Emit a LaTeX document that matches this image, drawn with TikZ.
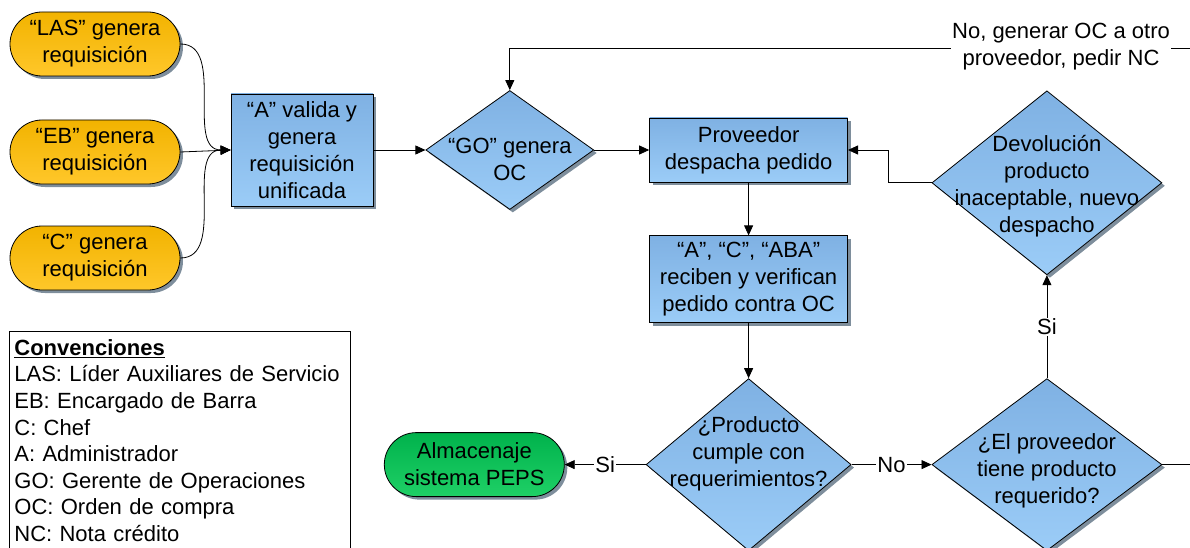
\documentclass[tikz,border=0pt]{standalone}
\usepackage{fontspec}
\setmainfont{Liberation Sans}
\usetikzlibrary{positioning,arrows.meta,shapes.geometric,shadows}

\definecolor{boxtop}{HTML}{7FB1E3}
\definecolor{boxbot}{HTML}{9BCCF7}
\definecolor{reqtop}{HTML}{F2B300}
\definecolor{reqbot}{HTML}{FFC72A}
\definecolor{fintop}{HTML}{00B24C}
\definecolor{finbot}{HTML}{1FD066}
\definecolor{shadowgray}{HTML}{7E8E9C}

% text block moved up or down inside a shape, without resizing it
\newcommand{\offsettext}[2]{\raisebox{#1}[0pt][0pt]{\begin{tabular}{@{}c@{}}#2\end{tabular}}}

\begin{document}
\begin{tikzpicture}[
  x=1pt, y=-1pt,
  font=\fontsize{22}{27}\selectfont,
  line width=0.8pt,
  shade/.style={drop shadow={shadow xshift=3pt, shadow yshift=-3pt, fill=shadowgray, opacity=1}},
  pill/.style={draw, shade, rounded corners=32pt, minimum width=170pt, minimum height=64pt, align=center, inner sep=2pt},
  request/.style={pill, top color=reqtop, bottom color=reqbot},
  finish/.style={pill, minimum width=180pt, top color=fintop, bottom color=finbot},
  proc/.style={draw, shade, rectangle, align=center, inner sep=2pt, top color=boxtop, bottom color=boxbot},
  decision/.style={draw, shade, diamond, align=center, inner xsep=-60pt, inner ysep=-40pt, top color=boxtop, bottom color=boxbot},
  arrow/.style={-{Triangle[length=10pt,width=9pt]}, line width=0.8pt},
  tag/.style={fill=white, inner sep=1pt, align=center},
  legend/.style={draw, anchor=north west, align=left, text width=331pt, inner xsep=5pt, inner ysep=8pt, font=\fontsize{22}{26.6}\selectfont}
]
\useasboundingbox (0,0) rectangle (1190,548);

% requisitions
\node[request] (las) at (95,44) {“LAS” genera\\requisición};
\node[request] (eb) at (95,152) {“EB” genera\\requisición};
\node[request] (chef) at (95,258) {“C” genera\\requisición};

% main flow
\node[proc, minimum width=142pt, minimum height=112pt] (valida) at (302,150) {“A” valida y\\genera\\requisición\\unificada};
\node[decision, minimum width=168pt, minimum height=119pt, right=52pt of valida] (go) {\offsettext{-16.5pt}{“GO” genera\\OC}};
\node[proc, minimum width=198pt, minimum height=64pt, right=55pt of go] (despacho) {Proveedor\\despacha pedido};
\node[proc, minimum width=198pt, minimum height=87pt, below=53pt of despacho] (recibe) {“A”, “C”, “ABA”\\reciben y verifican\\pedido contra OC};
\node[decision, minimum width=205pt, minimum height=172pt, below=55pt of recibe] (cumple) {\offsettext{5.5pt}{¿Producto\\cumple con\\requerimientos?}};
\node[finish, left=81pt of cumple] (almacen) {Almacenaje\\sistema PEPS};
\node[decision, minimum width=230pt, minimum height=172pt, right=80pt of cumple] (tiene) {\offsettext{-11.5pt}{¿El proveedor\\tiene producto\\requerido?}};
\node[decision, minimum width=230pt, minimum height=184pt, above=103pt of tiene] (devol) {\offsettext{-8.5pt}{Devolución\\producto\\inaceptable, nuevo\\despacho}};

\draw[arrow] (las.east) to[out=0, in=180] (valida.west);
\draw[arrow] (eb.east) -- (valida.west);
\draw[arrow] (chef.east) to[out=0, in=180] (valida.west);
\draw[arrow] (valida) -- (go);
\draw[arrow] (go) -- (despacho);
\draw[arrow] (despacho) -- (recibe);
\draw[arrow] (recibe) -- (cumple);
\draw[arrow] (cumple.west) -- node[tag] (si1) {Si} (almacen.east);
\draw[arrow] (cumple.east) -- node[tag] (no1) {No} (tiene.west);
\draw[arrow] (tiene.north) -- node[tag] (si2) {Si} (devol.south);
\draw[arrow] (devol.west) -- ++(-43,0) |- (despacho.east);

% back to another supplier
\coordinate (turn) at (1196,48);
\draw[arrow] (tiene.east) -| (turn) -| (go.north);
\node[tag] (otro) at (1061,47) {No, generar OC a otro\\proveedor, pedir NC};

% legend
\node[legend] (conv) at (9,331) {\underline{\textbf{Convenciones}}\\
  LAS: Líder Auxiliares de Servicio\\
  EB: Encargado de Barra\\
  C: Chef\\
  A: Administrador\\
  GO: Gerente de Operaciones\\
  OC: Orden de compra\\
  NC: Nota crédito};
\end{tikzpicture}
\end{document}
